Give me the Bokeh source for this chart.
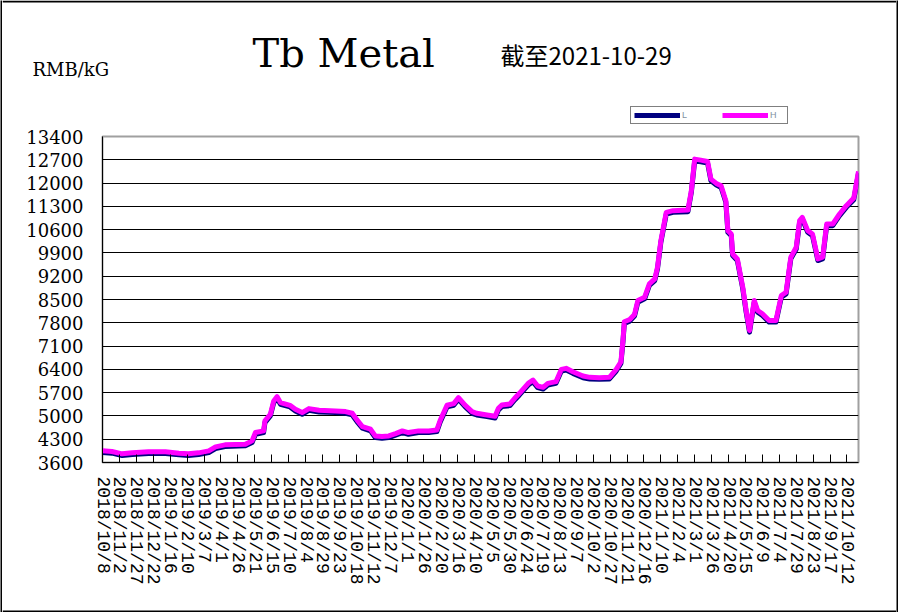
import pandas as pd
from bokeh.plotting import figure
from bokeh.layouts import column, row
from bokeh.models import Range1d, FixedTicker, Legend, LegendItem, ColumnDataSource
from bokeh.core.properties import value
from bokeh.embed import file_html
from bokeh.resources import INLINE

dates = ["2018-10-08", "2018-10-22", "2018-11-06", "2018-11-21", "2018-12-15", "2019-01-09", "2019-01-29",
         "2019-02-12", "2019-02-27", "2019-03-14", "2019-03-24", "2019-04-07", "2019-05-07", "2019-05-17",
         "2019-05-22", "2019-06-03", "2019-06-05", "2019-06-13", "2019-06-18", "2019-06-23", "2019-06-28",
         "2019-07-12", "2019-07-20", "2019-07-30", "2019-08-09", "2019-08-24", "2019-09-17", "2019-10-02",
         "2019-10-12", "2019-10-19", "2019-10-27", "2019-11-08", "2019-11-15", "2019-11-25", "2019-12-05",
         "2019-12-15", "2019-12-25", "2020-01-03", "2020-01-18", "2020-02-02", "2020-02-14", "2020-02-19",
         "2020-02-29", "2020-03-10", "2020-03-17", "2020-03-27", "2020-04-06", "2020-04-13", "2020-04-28",
         "2020-05-10", "2020-05-15", "2020-05-20", "2020-06-01", "2020-06-08", "2020-06-15", "2020-06-28",
         "2020-07-05", "2020-07-12", "2020-07-20", "2020-07-27", "2020-08-08", "2020-08-16", "2020-08-23",
         "2020-09-02", "2020-09-17", "2020-09-27", "2020-10-11", "2020-10-26", "2020-11-05", "2020-11-12",
         "2020-11-15", "2020-11-17", "2020-11-25", "2020-12-02", "2020-12-07", "2020-12-17", "2020-12-24",
         "2021-01-01", "2021-01-05", "2021-01-10", "2021-01-18", "2021-01-28", "2021-02-19", "2021-02-24",
         "2021-03-01", "2021-03-10", "2021-03-20", "2021-03-25", "2021-04-02", "2021-04-09", "2021-04-16",
         "2021-04-19", "2021-04-24", "2021-04-26", "2021-05-03", "2021-05-11", "2021-05-16", "2021-05-21",
         "2021-05-28", "2021-06-02", "2021-06-09", "2021-06-19", "2021-06-29", "2021-07-07", "2021-07-14",
         "2021-07-21", "2021-07-29", "2021-08-03", "2021-08-07", "2021-08-15", "2021-08-22", "2021-08-30",
         "2021-09-06", "2021-09-12", "2021-09-21", "2021-10-01", "2021-10-11", "2021-10-22", "2021-10-29"]

high = [3950, 3930, 3860, 3890, 3920, 3920, 3880,
        3860, 3890, 3950, 4070, 4130, 4150, 4250,
        4500, 4550, 4850, 5050, 5450, 5580, 5400,
        5320, 5200, 5100, 5220, 5170, 5150, 5130,
        5080, 4880, 4680, 4600, 4400, 4380, 4400,
        4470, 4550, 4500, 4550, 4550, 4580, 4870,
        5320, 5370, 5550, 5320, 5130, 5080, 5030,
        4990, 5230, 5330, 5360, 5530, 5680, 5980,
        6080, 5900, 5860, 5980, 6030, 6400, 6430,
        6330, 6200, 6160, 6150, 6160, 6400, 6630,
        7280, 7830, 7900, 8050, 8470, 8570, 8970,
        9120, 9470, 10270, 11120, 11170, 11190, 11770,
        12720, 12690, 12650, 12120, 11990, 11920, 11470,
        10570, 10470, 9870, 9720, 8870, 8170, 7570,
        8470, 8170, 8070, 7870, 7870, 8620, 8720,
        9770, 10070, 10870, 10970, 10570, 10470, 9720,
        9770, 10770, 10770, 11070, 11320, 11550, 12350]

low = [3900, 3880, 3810, 3840, 3870, 3870, 3830,
       3810, 3840, 3900, 4020, 4080, 4100, 4200,
       4450, 4500, 4800, 5000, 5400, 5530, 5350,
       5270, 5150, 5050, 5170, 5120, 5100, 5080,
       5030, 4830, 4630, 4550, 4350, 4330, 4350,
       4420, 4500, 4450, 4500, 4500, 4530, 4820,
       5270, 5320, 5500, 5270, 5080, 5030, 4980,
       4940, 5180, 5280, 5310, 5480, 5630, 5930,
       6030, 5850, 5810, 5930, 5980, 6350, 6380,
       6280, 6150, 6110, 6100, 6110, 6350, 6580,
       7230, 7780, 7850, 8000, 8420, 8520, 8920,
       9070, 9420, 10220, 11070, 11120, 11140, 11720,
       12670, 12640, 12600, 12070, 11940, 11870, 11420,
       10520, 10420, 9820, 9670, 8820, 8120, 7520,
       8420, 8120, 8020, 7820, 7820, 8570, 8670,
       9720, 10020, 10820, 10920, 10520, 10420, 9670,
       9720, 10720, 10720, 11020, 11270, 11500, 12300]

tick_labels = ["2018/10/8", "2018/11/2", "2018/11/27", "2018/12/22", "2019/1/16", "2019/2/10", "2019/3/7",
               "2019/4/1", "2019/4/26", "2019/5/21", "2019/6/15", "2019/7/10", "2019/8/4", "2019/8/29",
               "2019/9/23", "2019/10/18", "2019/11/12", "2019/12/7", "2020/1/1", "2020/1/26", "2020/2/20",
               "2020/3/16", "2020/4/10", "2020/5/5", "2020/5/30", "2020/6/24", "2020/7/19", "2020/8/13",
               "2020/9/7", "2020/10/2", "2020/10/27", "2020/11/21", "2020/12/16", "2021/1/10", "2021/2/4",
               "2021/3/1", "2021/3/26", "2021/4/20", "2021/5/15", "2021/6/9", "2021/7/4", "2021/7/29",
               "2021/8/23", "2021/9/17", "2021/10/12"]

y_ticks = [3600, 4300, 5000, 5700, 6400, 7100, 7800, 8500, 9200, 9900, 10600, 11300, 12000, 12700, 13400]

title_text = "Tb Metal"
unit_text = "RMB/kG"
date_text = "截至2021-10-29"
series_names = ["L", "H"]
series_colors = ["#000080", "#ff00ff"]
start_date = "2018-10-08"
end_date = "2021-10-29"

t0 = pd.Timestamp(start_date)
day = [(pd.Timestamp(d) - t0).days for d in dates]
tick_days = [(pd.to_datetime(s, format="%Y/%m/%d") - t0).days for s in tick_labels]
x_end = (pd.Timestamp(end_date) - t0).days

B = 2            # outer frame thickness
W = 898          # total width
H = 612          # total height
INNER_W = W - 2 * B
HEAD_H = 125     # header: window y 0..125
FOOT_H = 12      # footer: window y 600..612
MAIN_H = H - HEAD_H - FOOT_H   # chart: window y 125..600


def unalign(f):
    if hasattr(f, "frame_align"):
        f.frame_align = False
    return f


def blank(w, h, xr, yr, fill="white"):
    f = figure(width=w, height=h, output_backend="svg", toolbar_location=None, title_location=None,
               x_range=xr, y_range=yr, x_axis_type=None, y_axis_type=None, min_border=0)
    f.outline_line_color = None
    f.grid.visible = False
    f.background_fill_color = fill
    f.border_fill_color = fill
    return unalign(f)


# ---------------- header (titles + legend), window-pixel coordinates ----------------
head = blank(INNER_W, HEAD_H, Range1d(B, B + INNER_W), Range1d(HEAD_H, 0))
head.quad(left=[B], right=[B + INNER_W], top=[0], bottom=[B], fill_color="black", line_color=None)

head.text(x=[32], y=[69], text=[unit_text], text_baseline="alphabetic",
          text_font=value("DejaVu Serif"), text_font_size="18px", text_color="black")
head.text(x=[252], y=[52], text=[title_text], text_baseline="alphabetic",
          text_font=value("DejaVu Serif"), text_font_size="40px", text_color="black")
head.text(x=[500], y=[54], text=[date_text], text_baseline="alphabetic",
          text_font=value("Noto Sans CJK SC"), text_font_size="24px", text_color="black")

nan = float("nan")
key_l = head.line(x=[nan], y=[nan], line_color=series_colors[0], line_width=5)
key_h = head.line(x=[nan], y=[nan], line_color=series_colors[1], line_width=5)
legend = Legend(items=[LegendItem(label=series_names[0], renderers=[key_l]),
                       LegendItem(label=series_names[1], renderers=[key_h])],
                orientation="horizontal", location=(628, 1))
legend.border_line_color = "black"
legend.border_line_width = 1
legend.background_fill_color = "white"
legend.background_fill_alpha = 1
legend.padding = 3
legend.margin = 0
legend.spacing = 26
legend.glyph_width = 46
legend.glyph_height = 8
legend.label_height = 8
legend.label_width = 14
legend.label_standoff = 2
legend.label_text_font_size = "9px"
legend.label_text_color = "#8090a0"
head.add_layout(legend, "center")

# ---------------- footer (bottom edge of the outer frame) ----------------
foot = blank(INNER_W, FOOT_H, Range1d(B, B + INNER_W), Range1d(H, H - FOOT_H))
foot.quad(left=[B], right=[B + INNER_W], top=[H - B], bottom=[H], fill_color="black", line_color=None)

# ---------------- main chart ----------------
src = ColumnDataSource(dict(x=day, high=high, low=low))

p = figure(width=INNER_W, height=MAIN_H, output_backend="svg", toolbar_location=None,
           x_range=Range1d(0, x_end), y_range=Range1d(y_ticks[0], y_ticks[-1]),
           min_border_left=100, min_border_right=38, min_border_top=11, min_border_bottom=138)
unalign(p)
p.background_fill_color = "white"
p.border_fill_color = "white"
p.outline_line_color = "#a0a0a0"
p.outline_line_width = 2

p.line("x", "low", source=src, line_color=series_colors[0], line_width=5, line_join="round")
p.line("x", "high", source=src, line_color=series_colors[1], line_width=5, line_join="round")

p.yaxis.ticker = FixedTicker(ticks=y_ticks)
p.yaxis.major_tick_in = 0
p.yaxis.major_tick_out = 0
p.yaxis.minor_tick_line_color = None
p.yaxis.major_label_standoff = 19
p.yaxis.major_label_text_font = "DejaVu Serif"
p.yaxis.major_label_text_font_size = "18px"
p.yaxis.major_label_text_color = "black"
p.yaxis.axis_line_color = "black"
p.ygrid.ticker = FixedTicker(ticks=y_ticks)
p.ygrid.grid_line_color = "black"
p.ygrid.grid_line_width = 1

p.xaxis.ticker = FixedTicker(ticks=tick_days)
p.xaxis.major_label_overrides = {d: s for d, s in zip(tick_days, tick_labels)}
p.xaxis.major_label_orientation = "vertical"
p.xaxis.major_tick_in = 8
p.xaxis.major_tick_out = 0
p.xaxis.major_tick_line_color = "black"
p.xaxis.minor_tick_line_color = None
p.xaxis.major_label_standoff = 14
p.xaxis.major_label_text_font = "Liberation Mono"
p.xaxis.major_label_text_font_size = "18px"
p.xaxis.major_label_text_color = "black"
p.xaxis.axis_line_color = "black"
p.xgrid.visible = False

inner = column(head, p, foot, spacing=0)
left_bar = blank(B, H, Range1d(0, 1), Range1d(0, 1), fill="black")
right_bar = blank(B, H, Range1d(0, 1), Range1d(0, 1), fill="black")
layout = row(left_bar, inner, right_bar, spacing=0)
open("out.html", "w").write(file_html(layout, INLINE))
